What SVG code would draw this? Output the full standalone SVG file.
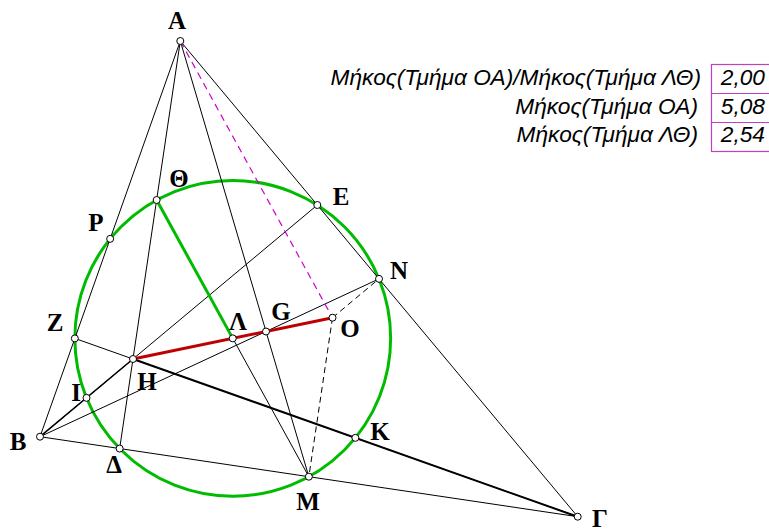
<svg xmlns="http://www.w3.org/2000/svg" width="769" height="529" viewBox="0 0 769 529">
<style>
.ln{stroke:#000;stroke-width:1;fill:none}
.dash{stroke:#000;stroke-width:1;stroke-dasharray:6,4;fill:none}
.mg{stroke:#cc00cc;stroke-width:1.2;stroke-dasharray:7,5;fill:none}
.gr{stroke:#00bb00;stroke-width:3;fill:none}
.rd{stroke:#c00000;stroke-width:3;fill:none}
.pt{fill:#fff;stroke:#000;stroke-width:1}
.lb{font-family:"Liberation Serif","Times New Roman",serif;font-weight:bold;font-size:25px;fill:#000;text-anchor:middle}
.tx{font-family:"Liberation Sans",Arial,sans-serif;font-style:italic;font-size:22.7px;fill:#000;text-anchor:end}
.bx{stroke:#c040c0;stroke-width:1.2;fill:none}
</style>
<rect width="769" height="529" fill="#fff"/>
<g id="table">
<rect class="bx" x="711.5" y="64.5" width="60" height="87"/>
<line class="bx" x1="711.5" y1="93.5" x2="769" y2="93.5"/>
<line class="bx" x1="711.5" y1="122.5" x2="769" y2="122.5"/>
<text class="tx" x="701" y="85">Μήκος(Τμήμα ΟΑ)/Μήκος(Τμήμα ΛΘ)</text>
<text class="tx" x="698" y="113.5">Μήκος(Τμήμα ΟΑ)</text>
<text class="tx" x="698" y="142">Μήκος(Τμήμα ΛΘ)</text>
<text class="tx" x="765" y="85">2,00</text>
<text class="tx" x="765" y="113.5">5,08</text>
<text class="tx" x="765" y="142">2,54</text>
</g>
<g id="connectors">
<circle class="gr" cx="232.75" cy="338.35" r="157.9"/>
<line class="ln" x1="180.3" y1="41" x2="40" y2="436.7"/>
<line class="ln" x1="180.3" y1="41" x2="577.7" y2="516.7"/>
<line class="ln" x1="40" y1="436.7" x2="577.7" y2="516.7"/>
<line class="ln" x1="180.3" y1="41" x2="119.65" y2="448.55"/>
<line class="ln" x1="40" y1="436.7" x2="317.3" y2="205"/>
<line class="ln" x1="74.85" y1="338.4" x2="577.7" y2="516.7"/>
<line class="ln" x1="40" y1="436.7" x2="379" y2="278.85"/>
<line class="ln" x1="180.3" y1="41" x2="308.85" y2="476.7"/>
<line class="ln" x1="156.65" y1="200" x2="308.85" y2="476.7"/>
<line class="ln" style="stroke-width:1.5" x1="40" y1="436.7" x2="133" y2="359"/>
<line class="ln" style="stroke-width:2" x1="133" y1="359" x2="577.7" y2="516.7"/>
<line class="dash" x1="332.5" y1="317.7" x2="379" y2="278.85"/>
<line class="dash" x1="332.5" y1="317.7" x2="308.85" y2="476.7"/>
<line class="mg" x1="180.3" y1="41" x2="332.5" y2="317.7"/>
<line class="gr" x1="156.65" y1="200" x2="232.75" y2="338.35"/>
<line class="rd" x1="133" y1="359" x2="332.5" y2="317.7"/>
</g>
<g id="A"><circle class="pt" cx="180.3" cy="41" r="3.5"/><text class="lb" x="177" y="29">Α</text></g>
<g id="B"><circle class="pt" cx="40" cy="436.7" r="3.5"/><text class="lb" x="18" y="450">Β</text></g>
<g id="Gamma"><circle class="pt" cx="577.7" cy="516.7" r="3.5"/><text class="lb" x="600" y="527">Γ</text></g>
<g id="Delta"><circle class="pt" cx="119.65" cy="448.55" r="3.5"/><text class="lb" x="114" y="473">Δ</text></g>
<g id="E"><circle class="pt" cx="317.3" cy="205" r="3.5"/><text class="lb" x="341" y="205">Ε</text></g>
<g id="Z"><circle class="pt" cx="74.85" cy="338.4" r="3.5"/><text class="lb" x="55" y="331">Ζ</text></g>
<g id="H"><circle class="pt" cx="133" cy="359" r="3.5"/><text class="lb" x="147" y="390">Η</text></g>
<g id="Theta"><circle class="pt" cx="156.65" cy="200" r="3.5"/><text class="lb" x="179" y="187">Θ</text></g>
<g id="I"><circle class="pt" cx="86.5" cy="397.85" r="3.5"/><text class="lb" x="76" y="401">Ι</text></g>
<g id="K"><circle class="pt" cx="355.35" cy="437.85" r="3.5"/><text class="lb" x="380" y="440">Κ</text></g>
<g id="Lambda"><circle class="pt" cx="232.75" cy="338.35" r="3.5"/><text class="lb" x="238" y="330">Λ</text></g>
<g id="M"><circle class="pt" cx="308.85" cy="476.7" r="3.5"/><text class="lb" x="308" y="510">Μ</text></g>
<g id="N"><circle class="pt" cx="379" cy="278.85" r="3.5"/><text class="lb" x="399" y="279">Ν</text></g>
<g id="O"><circle class="pt" cx="332.5" cy="317.7" r="3.5"/><text class="lb" x="350" y="337">Ο</text></g>
<g id="P"><circle class="pt" cx="110.15" cy="238.85" r="3.5"/><text class="lb" x="96" y="231">Ρ</text></g>
<g id="G"><circle class="pt" cx="266" cy="331.5" r="3.5"/><text class="lb" x="281" y="320">G</text></g>
</svg>
